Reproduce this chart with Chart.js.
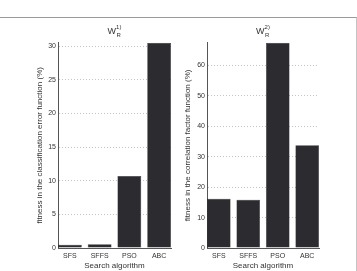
<!DOCTYPE html>
<html>
<head>
<meta charset="utf-8">
<script src="https://cdn.jsdelivr.net/npm/chart.js@4"></script>
<style>
body { margin: 0; background: #fff; }
#frame { position: absolute; left: 0; top: 17px; width: 356px; height: 254px; border-top: 1px solid #9a9a9a; border-right: 1px solid #c4c4c4; }
canvas { position: absolute; top: 0; }
</style>
</head>
<body>
<div id="frame"></div>
<canvas id="c1" width="178" height="271" style="left:0"></canvas>
<canvas id="c2" width="179" height="271" style="left:178px"></canvas>
<script>
var categories = ['SFS', 'SFFS', 'PSO', 'ABC'];
var errorValues = [0.5, 0.55, 10.7, 30.5];
var correlationValues = [16.2, 15.9, 67.5, 33.8];
var errorTicks = [0, 5, 10, 15, 20, 25, 30];
var correlationTicks = [0, 10, 20, 30, 40, 50, 60];

var FONT = "'Liberation Sans', Arial, sans-serif";
var TEXT = '#333';

// W with subscript R and superscript, drawn over the plot
function titlePlugin(sup) {
    return {
        id: 'wtitle',
        afterDraw: function (chart) {
            var ctx = chart.ctx, a = chart.chartArea;
            var cx = (a.left + a.right) / 2;
            ctx.save();
            ctx.fillStyle = TEXT;
            ctx.textBaseline = 'alphabetic';
            ctx.font = '9px ' + FONT;
            var w = ctx.measureText('W').width;
            ctx.font = '6px ' + FONT;
            var s = ctx.measureText(sup).width;
            var x0 = cx - (w + s) / 2;
            ctx.font = '9px ' + FONT;
            ctx.fillText('W', x0, 33.5);
            ctx.font = '6px ' + FONT;
            ctx.fillText(sup, x0 + w, 29);
            ctx.fillText('R', x0 + w + 0.5, 36.5);
            ctx.restore();
        }
    };
}

function makeChart(id, values, ticks, max, yTitle, sup, padLeft, yWidth, padRight) {
    return new Chart(document.getElementById(id), {
        type: 'bar',
        data: {
            datasets: [{
                data: categories.map(function (c, i) { return { x: i + 1, y: values[i] }; }),
                backgroundColor: '#2b2b30',
                borderColor: '#1e1e22',
                borderWidth: 0.5,
                barPercentage: 0.8,
                categoryPercentage: 1
            }]
        },
        options: {
            responsive: false,
            animation: false,
            devicePixelRatio: 1,
            layout: { padding: { left: padLeft, right: padRight, top: 42.7, bottom: 0 } },
            plugins: { legend: { display: false }, tooltip: { enabled: false } },
            scales: {
                x: {
                    type: 'linear',
                    min: 0.6,
                    max: 4.4,
                    offset: false,
                    afterBuildTicks: function (scale) {
                        scale.ticks = categories.map(function (c, i) { return { value: i + 1 }; });
                    },
                    afterFit: function (scale) { scale.height = 23; },
                    grid: { display: false, drawTicks: false, tickLength: 0, offset: false },
                    border: { display: true, color: '#555', width: 1 },
                    ticks: {
                        autoSkip: false, maxRotation: 0, padding: 4,
                        color: TEXT, font: { family: FONT, size: 7 },
                        callback: function (v) { return categories[v - 1]; }
                    },
                    title: {
                        display: true, text: 'Search algorithm', color: TEXT,
                        font: { family: FONT, size: 8 }, padding: { top: 0, bottom: 0 }
                    }
                },
                y: {
                    min: 0,
                    max: max,
                    afterBuildTicks: function (scale) {
                        scale.ticks = ticks.map(function (v) { return { value: v }; });
                    },
                    afterFit: function (scale) { scale.width = yWidth; },
                    grid: {
                        drawTicks: false,
                        color: function (c) { return c.tick && c.tick.value === 0 ? 'rgba(0,0,0,0)' : '#c4c4c4'; },
                        lineWidth: 1
                    },
                    border: { display: true, color: '#555', width: 1, dash: [1, 2] },
                    ticks: { padding: 2, color: TEXT, font: { family: FONT, size: 7 } },
                    title: {
                        display: true, text: yTitle, color: TEXT,
                        font: { family: FONT, size: 8 }, padding: { top: 0, bottom: 0 }
                    }
                }
            }
        },
        plugins: [titlePlugin(sup)]
    });
}

makeChart('c1', errorValues, errorTicks, 30.5,
    'fitness in the classification error function (%)', '1)', 35, 23, 7);
makeChart('c2', correlationValues, correlationTicks, 67.5,
    'fitness in the correlation factor function (%)', '2)', 5, 24, 38);
</script>
</body>
</html>
